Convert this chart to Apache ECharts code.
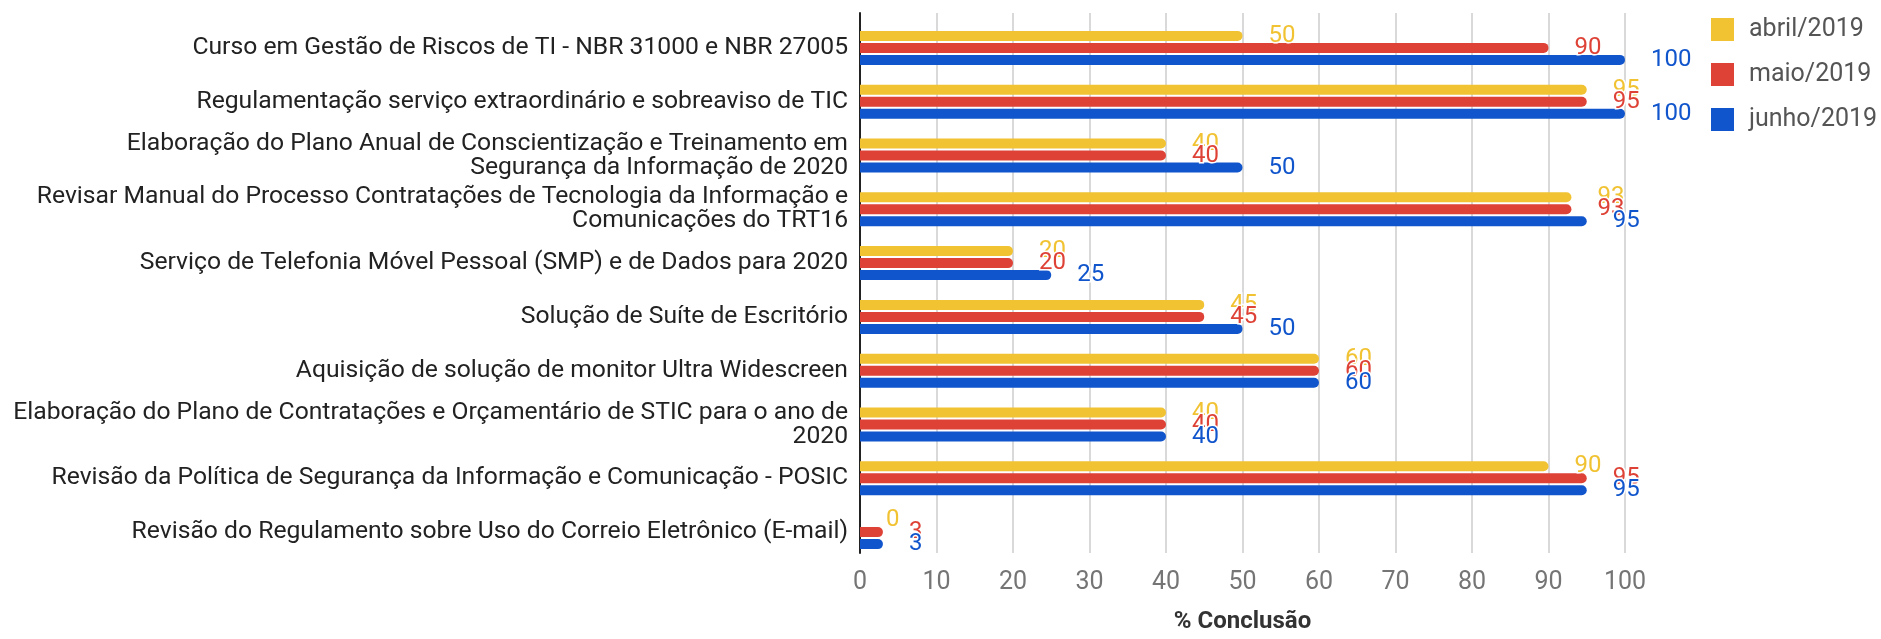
<!DOCTYPE html>
<html>
<head>
<meta charset="utf-8">
<script src="https://cdn.jsdelivr.net/npm/echarts@6/dist/echarts.min.js"></script>
<style>
  html, body { margin: 0; padding: 0; background: #fff; }
  #chart { width: 1881px; height: 639px; }
</style>
</head>
<body>
<div id="chart"></div>
<script>
  var categories = [
    'Curso em Gestão de Riscos de TI - NBR 31000 e NBR 27005',
    'Regulamentação serviço extraordinário e sobreaviso de TIC',
    'Elaboração do Plano Anual de Conscientização e Treinamento em\nSegurança da Informação de 2020',
    'Revisar Manual do Processo Contratações de Tecnologia da Informação e\nComunicações do TRT16',
    'Serviço de Telefonia Móvel Pessoal (SMP) e de Dados para 2020',
    'Solução de Suíte de Escritório',
    'Aquisição de solução de monitor Ultra Widescreen',
    'Elaboração do Plano de Contratações e Orçamentário de STIC para o ano de\n2020',
    'Revisão da Política de Segurança da Informação e Comunicação - POSIC',
    'Revisão do Regulamento sobre Uso do Correio Eletrônico (E-mail)'
  ]
  var seriesNames = ['abril/2019', 'maio/2019', 'junho/2019']
  var abril = [50, 95, 40, 93, 20, 45, 60, 40, 90, 0]
  var maio = [90, 95, 40, 93, 20, 45, 60, 40, 95, 3]
  var junho = [100, 100, 50, 95, 25, 50, 60, 40, 95, 3]
  var colors = ['#f1c232', '#de4236', '#1155cc']

  var font = 'Roboto, sans-serif'
  var chart = echarts.init(document.getElementById('chart'))

  function barSeries(name, data, color) {
    return {
      name: name,
      type: 'bar',
      xAxisIndex: 1,
      yAxisIndex: 1,
      data: data,
      barWidth: 10,
      barGap: '20%',
      itemStyle: { color: color, borderRadius: [0, 5, 5, 0] },
      label: {
        show: true,
        position: 'right',
        distance: 26,
        fontFamily: font,
        fontSize: 24,
        color: color,
        textBorderColor: '#fff',
        textBorderWidth: 3
      }
    }
  }

  chart.setOption({
    animation: false,
    color: colors,
    legend: {
      orient: 'vertical',
      left: 1706,
      top: 12,
      itemWidth: 23,
      itemHeight: 23,
      itemGap: 20,
      icon: 'rect',
      textStyle: { fontFamily: font, fontSize: 25, color: '#555', padding: [0, 0, 0, 10] },
      data: seriesNames
    },
    grid: [
      // axes and gridlines
      { left: 860, right: 256, top: 13, bottom: 72 },
      // bars
      { left: 860, right: 256, top: 21, bottom: 80 }
    ],
    xAxis: [{
      gridIndex: 0,
      type: 'value',
      min: 0,
      max: 100,
      interval: 10,
      axisLine: { show: false },
      axisTick: { show: false },
      splitLine: { lineStyle: { color: '#cccccc', width: 1.5 } },
      axisLabel: { fontFamily: font, fontSize: 25, color: '#757575', margin: 17 },
      name: '% Conclusão',
      nameLocation: 'middle',
      nameGap: 57,
      nameTextStyle: { fontFamily: font, fontSize: 24, fontWeight: 'bold', color: '#333' }
    }, {
      gridIndex: 1,
      type: 'value',
      min: 0,
      max: 100,
      show: false
    }],
    yAxis: [{
      gridIndex: 0,
      type: 'value',
      axisLine: { show: true, lineStyle: { color: '#222', width: 2 } },
      axisTick: { show: false },
      axisLabel: { show: false },
      splitLine: { show: false }
    }, {
      gridIndex: 1,
      type: 'category',
      inverse: true,
      data: categories,
      axisLine: { show: false },
      axisTick: { show: false },
      axisLabel: {
        fontFamily: font,
        fontSize: 24.7,
        lineHeight: 24,
        color: '#222',
        margin: 12,
        align: 'right'
      }
    }],
    series: [
      barSeries(seriesNames[0], abril, colors[0]),
      barSeries(seriesNames[1], maio, colors[1]),
      barSeries(seriesNames[2], junho, colors[2])
    ]
  })
</script>
</body>
</html>
